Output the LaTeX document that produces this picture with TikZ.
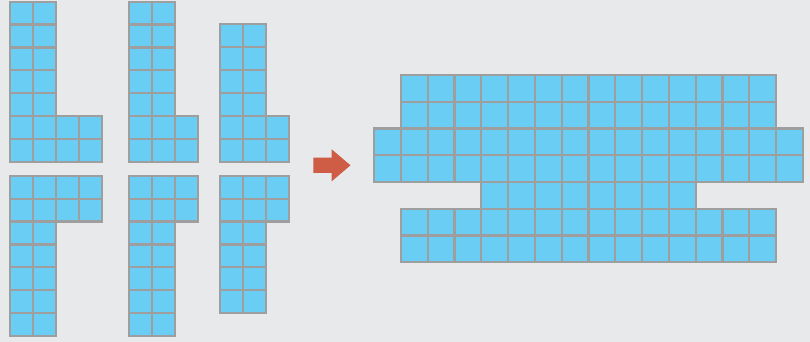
\documentclass[tikz,border=0pt]{standalone}
\definecolor{bgc}{HTML}{E8E9EB}
\definecolor{cellblue}{HTML}{6ACDF3}
\definecolor{cellgray}{HTML}{9E9E9E}
\definecolor{arrowred}{HTML}{CF5C45}
\tikzset{cell/.style={fill=cellblue, draw=cellgray, line width=2.2pt, line join=miter}}
% \mycells{x0}{y0}{w}{h}{first row}{last row}{last col}
\newcommand\mycells[7]{%
  \foreach \r in {#5,...,#6}{\foreach \c in {0,...,#7}{%
    \draw[cell] ({#1+\c*#3},{#2+\r*#4}) rectangle ++(#3,#4);}}}
\begin{document}
\begin{tikzpicture}[x=1pt,y=-1pt]
\fill[bgc] (0,0) rectangle (810,342);
\useasboundingbox (0,0) rectangle (810,342);
% piece 1
\mycells{10.3}{1.7}{23}{22.9}{0}{4}{1}
\mycells{10.3}{1.7}{23}{22.9}{5}{6}{3}
% piece 2
\mycells{128.7}{1.7}{23}{22.9}{0}{4}{1}
\mycells{128.7}{1.7}{23}{22.9}{5}{6}{2}
% piece 3
\mycells{219.7}{24.3}{23}{22.9}{0}{3}{1}
\mycells{219.7}{24.3}{23}{22.9}{4}{5}{2}
% piece 4
\mycells{10.3}{175.7}{23}{22.9}{0}{1}{3}
\mycells{10.3}{175.7}{23}{22.9}{2}{6}{1}
% piece 5
\mycells{128.7}{175.7}{23}{22.9}{0}{1}{2}
\mycells{128.7}{175.7}{23}{22.9}{2}{6}{1}
% piece 6
\mycells{219.7}{175.7}{23}{22.9}{0}{1}{2}
\mycells{219.7}{175.7}{23}{22.9}{2}{5}{1}
% arrow
\fill[arrowred] (313.3,157.7) -- (331.7,157.7) -- (331.7,149.3) -- (350.5,165.3)
  -- (331.7,181.3) -- (331.7,172.8) -- (313.3,172.8) -- cycle;
% result
\mycells{400.8}{75}{26.8}{26.75}{0}{1}{13}
\mycells{374}{75}{26.8}{26.75}{2}{3}{15}
\mycells{481.2}{75}{26.8}{26.75}{4}{4}{7}
\mycells{400.8}{75}{26.8}{26.75}{5}{6}{13}
\end{tikzpicture}
\end{document}
